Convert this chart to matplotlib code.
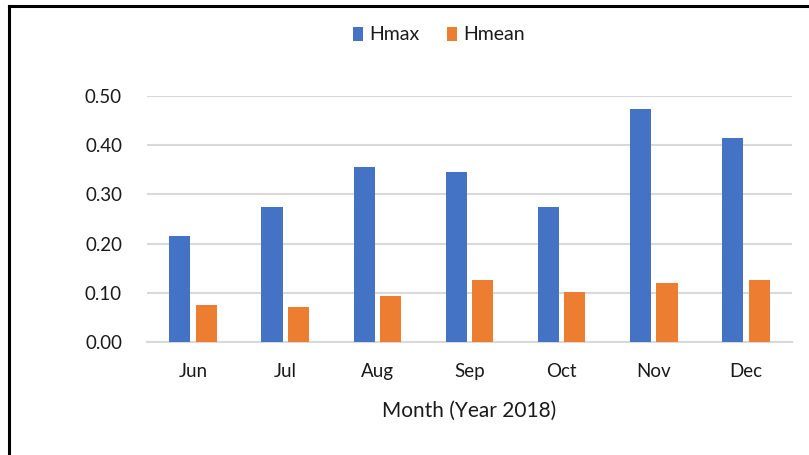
import matplotlib
matplotlib.use("Agg")
import matplotlib.pyplot as plt
import numpy as np
from matplotlib.lines import Line2D

months = ["Jun", "Jul", "Aug", "Sep", "Oct", "Nov", "Dec"]
hmax = [0.215, 0.274, 0.356, 0.345, 0.274, 0.474, 0.415]
hmean = [0.076, 0.072, 0.093, 0.126, 0.102, 0.119, 0.127]
yticks = [0.0, 0.1, 0.2, 0.3, 0.4, 0.5]

plt.rcParams['font.family'] = ['Lato', 'DejaVu Sans']
txt = '#1a1a1a'

fig = plt.figure(figsize=(8.09, 4.55), dpi=100)
ax = fig.add_axes([147/809, 1-342/455, (792-147)/809, (342-96)/455])

x = np.arange(len(months))
w = 0.23
off = 0.143
ax.bar(x - off, hmax, w, color='#4472C4', label='Hmax', zorder=3)
ax.bar(x + off, hmean, w, color='#ED7D31', label='Hmean', zorder=3)

ax.set_xlim(-0.5, len(months) - 0.5)
ax.set_ylim(0, 0.5)
ax.set_yticks(yticks)
ax.set_yticklabels([f"{v:.2f}" for v in yticks])
ax.set_xticks(x)
ax.set_xticklabels(months)
ax.tick_params(axis='both', length=0, labelsize=13.5, colors=txt)
ax.tick_params(axis='y', pad=18)
ax.tick_params(axis='x', pad=15)
ax.yaxis.grid(True, color='#d9d9d9', linewidth=1.5, zorder=0)
ax.set_axisbelow(True)
for s in ['top', 'right', 'left']:
    ax.spines[s].set_visible(False)
ax.spines['bottom'].set_color('#d9d9d9')
ax.spines['bottom'].set_linewidth(1.5)
ax.set_xlabel("Month (Year 2018)", fontsize=15, color=txt, labelpad=15)

fig.legend(loc='center', bbox_to_anchor=(439/809, 1-35/455), ncol=2, frameon=False,
           fontsize=14, handlelength=0.5, handleheight=0.75, handletextpad=0.35,
           columnspacing=1.4, labelcolor=txt)

# figure border: left and top
fig.add_artist(Line2D([9/809, 9/809], [0, 1-6/455], color='black', linewidth=2.2, transform=fig.transFigure))
fig.add_artist(Line2D([9/809, 1], [1-6/455, 1-6/455], color='black', linewidth=2.2, transform=fig.transFigure))

fig.savefig("out.png", dpi=100)
